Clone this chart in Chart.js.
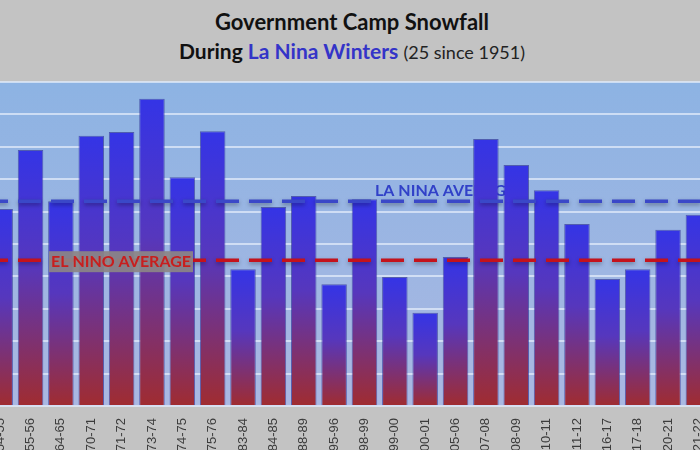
<!DOCTYPE html>
<html>
<head>
<meta charset="utf-8">
<script src="https://cdn.jsdelivr.net/npm/chart.js@4.4.1/dist/chart.umd.min.js"></script>
<style>
  html, body { margin: 0; padding: 0; }
  body { width: 700px; height: 450px; overflow: hidden; background: #c3c3c3; position: relative; }
  #title { position: absolute; left: 0; top: 0; width: 700px; text-align: center; font-family: Lato, "Liberation Sans", sans-serif; color: #111; }
  #title .l1 { position: absolute; left: 0; width: 704px; top: 8px; font-size: 22px; font-weight: bold; }
  #title .l2 { position: absolute; left: 0; width: 704px; top: 38px; font-size: 21px; font-weight: bold; }
  #title .blue { color: #3434c8; }
  #title .small { font-weight: normal; font-size: 18px; color: #222; }
  #chart { position: absolute; left: -15px; top: 0; }
</style>
</head>
<body>
<div id="title">
  <div class="l1">Government Camp Snowfall</div>
  <div class="l2">During <span class="blue">La Nina Winters</span> <span class="small">(25 since 1951)</span></div>
</div>
<canvas id="chart" width="733" height="450"></canvas>
<script>
const seasons = ["54-55", "55-56", "64-65", "70-71", "71-72", "73-74", "74-75", "75-76",
  "83-84", "84-85", "88-89", "95-96", "98-99", "99-00", "00-01", "05-06",
  "07-08", "08-09", "10-11", "11-12", "16-17", "17-18", "20-21", "21-22"];
const snowfall = [304, 395, 316, 417, 423, 474, 353, 424,
  211, 307, 324, 188, 319, 199, 144, 230,
  412, 372, 333, 281, 196, 211, 272, 295];
const laNinaAverage = 316;
const elNinoAverage = 225;

function barGradient(ctx) {
  const chart = ctx.chart;
  if (!chart.chartArea || ctx.type !== "data") return "#3434e4";
  const y = chart.scales.y;
  const top = y.getPixelForValue(ctx.raw);
  const bottom = y.getPixelForValue(0);
  const g = chart.ctx.createLinearGradient(0, top, 0, bottom);
  g.addColorStop(0, "#3434e6");
  g.addColorStop(0.45, "#5637bd");
  g.addColorStop(1, "#a02c30");
  return g;
}

const plotBackground = {
  id: "plotBackground",
  beforeDraw(chart) {
    const { ctx, chartArea: a } = chart;
    const g = ctx.createLinearGradient(0, a.top, 0, a.bottom);
    g.addColorStop(0, "#8db3e3");
    g.addColorStop(1, "#aab8e2");
    ctx.save();
    ctx.fillStyle = g;
    ctx.fillRect(a.left, a.top, a.right - a.left, a.bottom - a.top);
    ctx.restore();
  },
  beforeDatasetsDraw(chart) {
    // la nina label sits behind the bars
    const { ctx } = chart;
    const y = chart.scales.y.getPixelForValue(laNinaAverage);
    ctx.save();
    ctx.font = "bold 16px Lato, 'Liberation Sans', sans-serif";
    ctx.fillStyle = "#3141c8";
    ctx.textBaseline = "alphabetic";
    ctx.fillText("LA NINA AVERAGE", 390, y - 5);
    ctx.restore();
  },
  afterDatasetsDraw(chart) {
    const { ctx, chartArea: a } = chart;
    const ys = chart.scales.y;
    const lines = [[laNinaAverage, "#3a48c8"], [elNinoAverage, "#c4121c"]];
    ctx.save();
    ctx.lineWidth = 3.5;
    ctx.setLineDash([23, 10]);
    ctx.shadowColor = "rgba(0,0,0,0.35)";
    ctx.shadowBlur = 4;
    ctx.shadowOffsetY = 2;
    for (const [v, c] of lines) {
      const y = ys.getPixelForValue(v);
      ctx.strokeStyle = c;
      ctx.beginPath();
      ctx.moveTo(a.left, y);
      ctx.lineTo(a.right, y);
      ctx.stroke();
    }
    ctx.restore();

    // el nino label box on top
    const ey = ys.getPixelForValue(elNinoAverage);
    ctx.save();
    ctx.fillStyle = "rgba(140,134,134,0.92)";
    ctx.fillRect(64, ey - 9, 144, 21);
    ctx.font = "bold 16px Lato, 'Liberation Sans', sans-serif";
    ctx.fillStyle = "#c81e1e";
    ctx.textAlign = "center";
    ctx.textBaseline = "middle";
    ctx.fillText("EL NINO AVERAGE", 136, ey + 2);
    ctx.restore();
  }
};

new Chart(document.getElementById("chart"), {
  type: "bar",
  data: {
    labels: seasons,
    datasets: [{
      data: snowfall,
      backgroundColor: barGradient,
      borderColor: "rgba(35,35,140,0.6)",
      borderWidth: 1,
      barPercentage: 0.84,
      categoryPercentage: 1
    }]
  },
  options: {
    responsive: false,
    animation: false,
    layout: { padding: { top: 82, left: 0, right: 0, bottom: 0 } },
    plugins: { legend: { display: false }, tooltip: { enabled: false } },
    scales: {
      x: {
        grid: { display: false },
        border: { display: false },
        ticks: {
          minRotation: 90,
          maxRotation: 90,
          padding: 4,
          color: "#3c3c3c",
          font: { family: "'Liberation Sans', sans-serif", size: 13 }
        },
        afterFit(s) { s.height = 44; }
      },
      y: {
        min: 0,
        max: 500,
        ticks: { display: false, stepSize: 50 },
        border: { display: false },
        grid: { color: "rgba(225,235,250,0.75)", lineWidth: 2, drawTicks: false },
        afterFit(s) { s.width = 0; }
      }
    }
  },
  plugins: [plotBackground]
});
</script>
</body>
</html>
